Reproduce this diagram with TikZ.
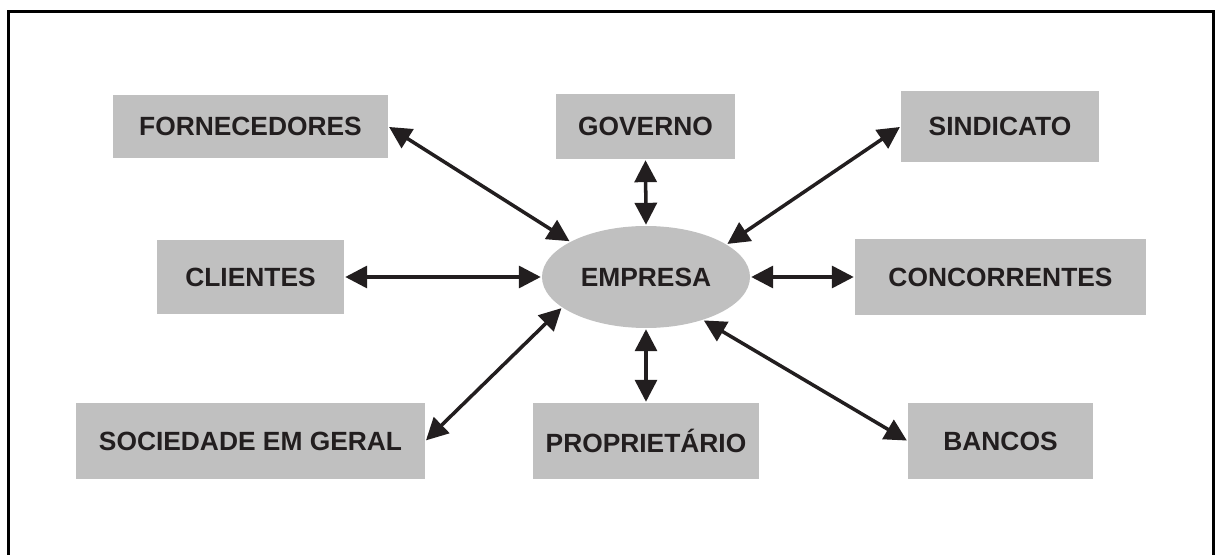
\documentclass[tikz,border=0pt]{standalone}
\usepackage{fontspec}
\setmainfont{Liberation Sans}
\usepackage{xcolor}
\usepackage{tikz}
\usetikzlibrary{shapes,shapes.geometric,arrows,positioning,calc,arrows.meta}
\definecolor{caixa}{HTML}{C0C0C0}
\definecolor{tinta}{HTML}{221E1F}

\begin{document}
\begin{tikzpicture}[
    ator/.style={fill=caixa, inner sep=0pt, minimum height=1.52cm, text=tinta, font=\fontsize{15}{18}\selectfont\bfseries},
    elo/.style={line width=2pt, draw=tinta, {Triangle[length=12.5pt,width=12.5pt]}-{Triangle[length=12.5pt,width=12.5pt]}, shorten <=0.5pt, shorten >=0.5pt}
]
    \useasboundingbox (0,0) rectangle (24.3,11.08);
    % Moldura
    \draw [line width=2pt, line cap=rect] (0.17,0) -- (0.17,10.85) -- (24.27,10.85) -- (24.27,0);
    % Empresa no centro
    \node [ellipse, fill=caixa, inner sep=0pt, minimum width=4.16cm, minimum height=2.04cm, text=tinta, font=\fontsize{15}{18}\selectfont\bfseries] (empresa) at (12.92,5.54) {EMPRESA};
    % Linha de cima
    \node [ator, minimum width=5.5cm, minimum height=1.26cm] (fornec) at (5.01,8.55) {FORNECEDORES};
    \node [ator, minimum width=3.58cm, minimum height=1.3cm] (governo) at (12.91,8.55) {GOVERNO};
    \node [ator, minimum width=3.96cm, minimum height=1.42cm] (sindic) at (20.0,8.55) {SINDICATO};
    % Linha do meio
    \node [ator, minimum width=3.74cm, minimum height=1.48cm] (clientes) at (5.01,5.54) {CLIENTES};
    \node [ator, minimum width=5.82cm] (concorr) at (20.01,5.54) {CONCORRENTES};
    % Linha de baixo
    \node [ator, minimum width=6.98cm] (socied) at (5.01,2.26) {SOCIEDADE EM GERAL};
    \node [ator, minimum width=4.52cm] (propriet) at (12.92,2.26) {PROPRIETÁRIO};
    \node [ator, minimum width=3.7cm] (bancos) at (20.01,2.26) {BANCOS};
    % Setas
    \draw [elo] (fornec.east) -- (empresa.155);
    \draw [elo] (governo.south) -- (empresa.north);
    \draw [elo] (sindic.west) -- (empresa.22);
    \draw [elo] (clientes.east) -- (empresa.west);
    \draw [elo] (empresa.east) -- (concorr.west);
    \draw [elo] (socied.east) -- (empresa.200);
    \draw [elo] (empresa.south) -- (propriet.north);
    \draw [elo] (empresa.-37) -- (bancos.west);
\end{tikzpicture}
\end{document}
